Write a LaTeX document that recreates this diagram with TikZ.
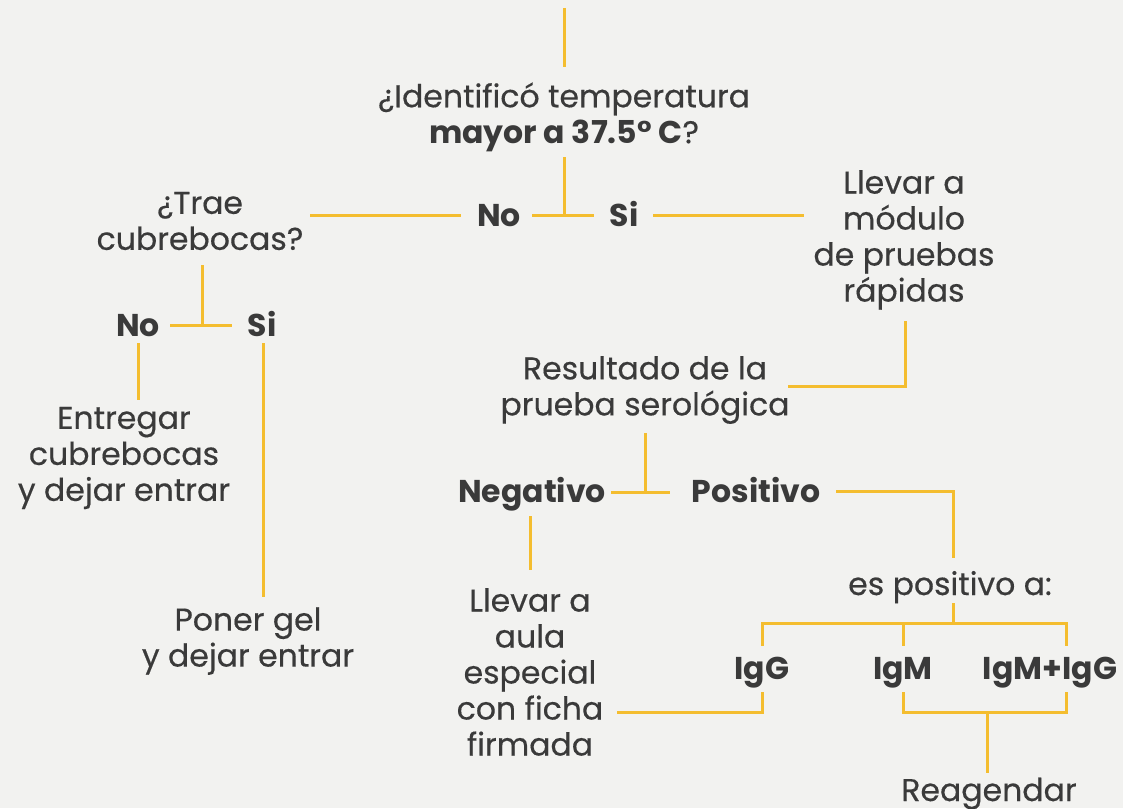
\documentclass[tikz,border=0pt]{standalone}
\usepackage{fontspec}
\setmainfont{Poppins}[UprightFeatures={FakeBold=0.4}]
\definecolor{bgC}{HTML}{F2F2F0}
\definecolor{lineC}{HTML}{F4BD2F}
\definecolor{textC}{HTML}{3A3A3A}
\begin{document}
\begin{tikzpicture}[x=1pt,y=-1pt,
  ln/.style={draw=lineC, line width=3pt},
  txt/.style={text=textC, align=center, inner sep=0pt, font=\fontsize{31.5}{36}\selectfont},
  lbl/.style={text=textC, align=center, inner sep=0pt, anchor=base, font=\fontsize{31.5}{36}\selectfont\bfseries}]
\fill[bgC] (0,0) rectangle (1123,808);
\useasboundingbox (0,0) rectangle (1123,808);

% nodes
\node[txt] (q1) at (564,117) {¿Identificó temperatura\\\textbf{mayor a 37.5° C}?};
\node[lbl] (no1) at (499,226) {No};
\node[lbl] (si1) at (624,226) {Si};
\node[txt] (trae) at (200,221) {¿Trae\\cubrebocas?};
\node[txt] (mod) at (904,240) {Llevar a\\módulo\\de pruebas\\rápidas};
\node[txt] (res) at (645,390) {Resultado de la\\prueba serológica};
\node[lbl] (neg) at (532,502) {Negativo};
\node[lbl] (pos) at (756,502) {Positivo};
\node[txt, anchor=base] (espos) at (950,595) {es positivo a:};
\node[lbl] (igg) at (762,679) {IgG};
\node[lbl] (igm) at (903,679) {IgM};
\node[lbl] (igmg) at (1050,679) {IgM+IgG};
\node[txt] (aula) at (530,672) {Llevar a\\aula\\especial\\con ficha\\firmada};
\node[txt, anchor=base] (reag) at (989,801) {Reagendar};
\node[lbl] (no2) at (138,336) {No};
\node[lbl] (si2) at (262,336) {Si};
\node[txt] (entr) at (124,458) {Entregar\\cubrebocas\\y dejar entrar};
\node[txt] (gel) at (248,641) {Poner gel\\y dejar entrar};

% junction / end coordinates
\coordinate (a0) at (564,8);   \coordinate (a1) at (564,67);
\coordinate (b0) at (564,157); \coordinate (b1) at (564,215);
\coordinate (b2) at (532,215); \coordinate (b3) at (594,215);
\coordinate (c0) at (310,215); \coordinate (c1) at (461,215);
\coordinate (d0) at (653,215); \coordinate (d1) at (804,215);
\coordinate (e0) at (905,321); \coordinate (e1) at (905,386); \coordinate (e2) at (788,386);
\coordinate (f0) at (645,433); \coordinate (f1) at (645,492);
\coordinate (f2) at (611,492); \coordinate (f3) at (670,492);
\coordinate (g0) at (836,491); \coordinate (g1) at (953,491); \coordinate (g2) at (953,558);
\coordinate (h0) at (953,603); \coordinate (h1) at (953,623);
\coordinate (h2) at (762,623); \coordinate (h3) at (1066,623);
\coordinate (h4) at (762,646); \coordinate (h5) at (1066,646);
\coordinate (h6) at (903,623); \coordinate (h7) at (903,646);
\coordinate (i0) at (762,692); \coordinate (i1) at (762,712); \coordinate (i2) at (617,712);
\coordinate (j0) at (903,692); \coordinate (j1) at (903,712);
\coordinate (j2) at (1066,712); \coordinate (j3) at (1066,692);
\coordinate (j4) at (987,712); \coordinate (j5) at (987,773);
\coordinate (k0) at (530,516); \coordinate (k1) at (530,570);
\coordinate (l0) at (202,265); \coordinate (l1) at (202,325);
\coordinate (l2) at (170,325); \coordinate (l3) at (232,325);
\coordinate (m0) at (138,343); \coordinate (m1) at (138,400);
\coordinate (n0) at (263,343); \coordinate (n1) at (263,597);

% connectors
\draw[ln] (a0) -- (a1);
\draw[ln] (b0) -- (b1);
\draw[ln] (b2) -- (b3);
\draw[ln] (c0) -- (c1);
\draw[ln] (d0) -- (d1);
\draw[ln] (e0) -- (e1) -- (e2);
\draw[ln] (f0) -- (f1);
\draw[ln] (f2) -- (f3);
\draw[ln] (g0) -- (g1) -- (g2);
\draw[ln] (h0) -- (h1);
\draw[ln] (h4) -- (h2) -- (h3) -- (h5);
\draw[ln] (h6) -- (h7);
\draw[ln] (i0) -- (i1) -- (i2);
\draw[ln] (j0) -- (j1) -- (j2) -- (j3);
\draw[ln] (j4) -- (j5);
\draw[ln] (k0) -- (k1);
\draw[ln] (l0) -- (l1);
\draw[ln] (l2) -- (l3);
\draw[ln] (m0) -- (m1);
\draw[ln] (n0) -- (n1);
\end{tikzpicture}
\end{document}
